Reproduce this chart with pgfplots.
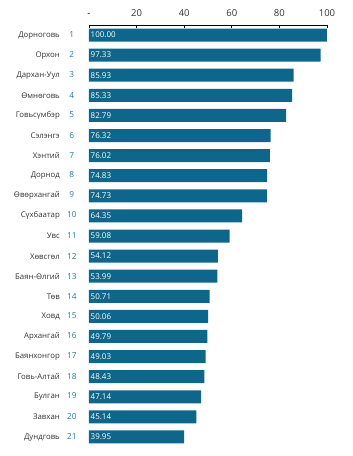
\documentclass[border=0pt]{standalone}
\usepackage{pgfplots}
\pgfplotsset{compat=1.18}
\usepackage{pgfplotstable}
\usepackage{fontspec}
\setmainfont{Open Sans}
\pgfkeys{/pgf/number format/assume math mode=true}
\definecolor{barc}{RGB}{14,102,138}
\definecolor{rankc}{RGB}{40,125,160}
\definecolor{namec}{RGB}{50,50,50}
\pgfplotstableread[col sep=comma]{
rank,value
1,100.00
2,97.33
3,85.93
4,85.33
5,82.79
6,76.32
7,76.02
8,74.83
9,74.73
10,64.35
11,59.08
12,54.12
13,53.99
14,50.71
15,50.06
16,49.79
17,49.03
18,48.43
19,47.14
20,45.14
21,39.95
}\datatable
\newcommand{\lab}[2]{#1\makebox[24pt][c]{\fontsize{8.3}{9}\selectfont\color{rankc}#2}}
\begin{document}
\begin{tikzpicture}
\useasboundingbox (-89pt,-9pt) rectangle (264pt,447pt);
\begin{axis}[
  at={(0,0)}, anchor=south west,
  scale only axis, width=238pt, height=422pt,
  xmin=0, xmax=100, ymin=0.5, ymax=21.5,
  y dir=reverse,
  axis x line*=top,
  axis y line*=left,
  y axis line style={draw=none},
  xtick={0,20,40,60,80,100},
  xticklabels={-,20,40,60,80,100},
  xtick align=inside,
  major tick length=3pt,
  x axis line style={line width=0.6pt},
  xtick style={line width=0.6pt, black},
  xticklabel style={font=\fontsize{9.5}{11}\selectfont, text=namec, yshift=5pt},
  ytick={1,...,21},
  yticklabels={\lab{Дорноговь}{1},\lab{Орхон}{2},\lab{Дархан-Уул}{3},\lab{Өмнөговь}{4},\lab{Говьсүмбэр}{5},\lab{Сэлэнгэ}{6},\lab{Хэнтий}{7},\lab{Дорнод}{8},\lab{Өвөрхангай}{9},\lab{Сүхбаатар}{10},\lab{Увс}{11},\lab{Хөвсгөл}{12},\lab{Баян-Өлгий}{13},\lab{Төв}{14},\lab{Ховд}{15},\lab{Архангай}{16},\lab{Баянхонгор}{17},\lab{Говь-Алтай}{18},\lab{Булган}{19},\lab{Завхан}{20},\lab{Дундговь}{21}},
  yticklabel style={font=\fontsize{7.8}{9}\selectfont, text=namec, inner sep=0pt, xshift=-5pt},
  ytick style={draw=none},
  clip=false,
]
\addplot[xbar, bar width=13pt, fill=barc, draw=none,
  point meta=x,
  visualization depends on={rawx \as \rx},
  nodes near coords={\pgfmathprintnumber[fixed,fixed zerofill,precision=2,assume math mode=true]{\pgfplotspointmeta}},
  nodes near coords style={anchor=west, text=white, font=\fontsize{8}{9}\selectfont, inner sep=0pt, xshift={1.5pt-2.38pt*\rx}},
] table[x=value, y=rank] {\datatable};
\end{axis}
\end{tikzpicture}
\end{document}
